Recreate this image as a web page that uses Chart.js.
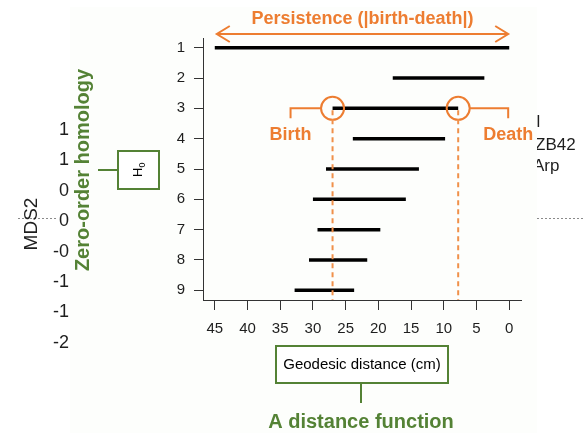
<!DOCTYPE html>
<html>
<head>
<meta charset="utf-8">
<script src="https://cdn.jsdelivr.net/npm/chart.js@4"></script>
<style>
html,body{margin:0;padding:0;background:#fff;}
canvas{display:block;}
</style>
</head>
<body>
<canvas id="barcode" width="585" height="433"></canvas>
<script>
/* global Chart */

// H0 barcode: one bar per row, birth -> death (geodesic distance, cm)
const rows = [1, 2, 3, 4, 5, 6, 7, 8, 9];
const births = [45, 17.8, 27.0, 23.9, 28.0, 30.0, 29.3, 30.6, 32.8];
const deaths = [0, 3.8, 7.8, 9.8, 13.8, 15.8, 19.7, 21.7, 23.7];
const xTicks = [45, 40, 35, 30, 25, 20, 15, 10, 5, 0];

// bits of the slide behind the plot
const mdsTicks = ['1', '1', '0', '0', '-0', '-1', '-1', '-2'];
const sideLabels = ['ol', 'ZB42', 'Arp'];

const FONT = "'Liberation Sans', Arial, sans-serif";
const ORANGE = '#ed7d31';
const GREEN = '#548235';
const INK = '#1e1e1e';

function upText(ctx, text, x, y, font, color) {
  ctx.save();
  ctx.translate(x, y);
  ctx.rotate(-Math.PI / 2);
  ctx.font = font;
  ctx.fillStyle = color;
  ctx.textAlign = 'center';
  ctx.textBaseline = 'alphabetic';
  ctx.fillText(text, 0, 0);
  ctx.restore();
}

const backdrop = {
  id: 'backdrop',
  beforeDraw(chart) {
    const ctx = chart.ctx;
    ctx.save();
    ctx.fillStyle = '#fff';
    ctx.fillRect(0, 0, chart.width, chart.height);

    // slide text that sticks out on the right
    ctx.font = '17px ' + FONT;
    ctx.fillStyle = INK;
    ctx.textAlign = 'left';
    const sideY = [127, 150, 171];
    const sideX = [527, 535, 533];
    sideLabels.forEach((t, i) => ctx.fillText(t, sideX[i], sideY[i]));

    // dotted guide
    ctx.strokeStyle = '#8a8a8a';
    ctx.lineWidth = 1;
    ctx.setLineDash([2, 2]);
    ctx.beginPath();
    ctx.moveTo(18, 218.5); ctx.lineTo(58, 218.5);
    ctx.moveTo(537, 218.5); ctx.lineTo(585, 218.5);
    ctx.stroke();
    ctx.setLineDash([]);

    // pale panel the plot sits on
    ctx.fillStyle = '#fdfefc';
    ctx.fillRect(70, 7, 467, chart.height - 7);

    // MDS2 axis leftovers
    ctx.font = '18px ' + FONT;
    ctx.fillStyle = INK;
    ctx.textAlign = 'right';
    mdsTicks.forEach((t, i) => ctx.fillText(t, 69, 135 + i * 30.4));
    upText(ctx, 'MDS2', 37, 224, '19px ' + FONT, INK);

    upText(ctx, 'Zero-order homology', 89, 170, 'bold 20px ' + FONT, GREEN);

    // H0 box
    ctx.strokeStyle = GREEN;
    ctx.lineWidth = 2;
    ctx.beginPath();
    ctx.moveTo(98, 170); ctx.lineTo(118, 170);
    ctx.stroke();
    ctx.fillStyle = '#fff';
    ctx.fillRect(118, 151, 41, 38);
    ctx.strokeRect(118, 151, 41, 38);
    ctx.translate(142, 170);
    ctx.rotate(-Math.PI / 2);
    ctx.fillStyle = '#000';
    ctx.textAlign = 'left';
    ctx.font = '13px ' + FONT;
    ctx.fillText('H', -7, 0);
    ctx.font = '9px ' + FONT;
    ctx.fillText('0', 2.5, 3);
    ctx.restore();
  }
};

const notes = {
  id: 'notes',
  afterDatasetsDraw(chart) {
    const ctx = chart.ctx;
    const x = chart.scales.x;
    const y = chart.scales.y;
    const area = chart.chartArea;
    ctx.save();
    ctx.strokeStyle = ORANGE;
    ctx.fillStyle = ORANGE;
    ctx.lineWidth = 2;

    // persistence arrow over the longest bar
    const ax0 = x.getPixelForValue(births[0]) + 2;
    const ax1 = x.getPixelForValue(deaths[0]) - 1;
    const ay = 34;
    ctx.beginPath();
    ctx.moveTo(ax0, ay); ctx.lineTo(ax1, ay);
    ctx.moveTo(ax0 + 13, ay - 8); ctx.lineTo(ax0, ay); ctx.lineTo(ax0 + 13, ay + 8);
    ctx.moveTo(ax1 - 13, ay - 8); ctx.lineTo(ax1, ay); ctx.lineTo(ax1 - 13, ay + 8);
    ctx.stroke();
    ctx.font = 'bold 18px ' + FONT;
    ctx.textAlign = 'center';
    ctx.fillText('Persistence (|birth-death|)', (ax0 + ax1) / 2, 24);

    // birth / death of row 3
    const r = 11.5;
    const by = y.getPixelForValue(rows[2]);
    const bx = x.getPixelForValue(births[2]);
    const dx = x.getPixelForValue(deaths[2]);
    ctx.beginPath();
    ctx.arc(bx, by, r, 0, Math.PI * 2);
    ctx.stroke();
    ctx.beginPath();
    ctx.arc(dx, by, r, 0, Math.PI * 2);
    ctx.stroke();

    ctx.beginPath();
    ctx.moveTo(bx - r, by); ctx.lineTo(bx - 42, by); ctx.lineTo(bx - 42, by + 10);
    ctx.moveTo(dx + r, by); ctx.lineTo(dx + 50, by); ctx.lineTo(dx + 50, by + 10);
    ctx.stroke();
    ctx.fillText('Birth', bx - 42, by + 32);
    ctx.fillText('Death', dx + 50, by + 32);

    ctx.strokeStyle = '#f0904a';
    ctx.setLineDash([5, 4]);
    ctx.beginPath();
    ctx.moveTo(bx, by + 2); ctx.lineTo(bx, area.bottom);
    ctx.moveTo(dx, by + 2); ctx.lineTo(dx, area.bottom);
    ctx.stroke();
    ctx.setLineDash([]);

    // x axis caption box
    ctx.strokeStyle = GREEN;
    ctx.fillStyle = '#fff';
    ctx.fillRect(276, 346, 172, 37);
    ctx.strokeRect(276, 346, 172, 37);
    ctx.beginPath();
    ctx.moveTo(361, 383); ctx.lineTo(361, 403);
    ctx.stroke();
    ctx.fillStyle = '#000';
    ctx.font = '15px ' + FONT;
    ctx.textBaseline = 'middle';
    ctx.fillText('Geodesic distance (cm)', 362, 365);
    ctx.textBaseline = 'alphabetic';
    ctx.fillStyle = GREEN;
    ctx.font = 'bold 20px ' + FONT;
    ctx.fillText('A distance function', 361, 428);
    ctx.restore();
  }
};

const datasets = rows.map((row, i) => ({
  data: [{ x: births[i], y: row }, { x: deaths[i], y: row }],
  showLine: true,
  borderColor: '#000',
  borderWidth: 3.5,
  borderCapStyle: 'butt',
  pointRadius: 0,
  clip: false
}));

const axisGrid = len => ({
  display: true, drawOnChartArea: false, drawTicks: true,
  tickLength: len, color: '#333', lineWidth: 1
});

new Chart(document.getElementById('barcode').getContext('2d'), {
  type: 'scatter',
  data: { datasets },
  options: {
    responsive: false,
    animation: false,
    events: [],
    layout: { padding: { left: 0, right: 64, top: 38, bottom: 0 } },
    plugins: { legend: { display: false }, tooltip: { enabled: false } },
    scales: {
      x: {
        type: 'linear', reverse: true, min: -1.8, max: 46.8,
        afterBuildTicks: s => { s.ticks = xTicks.map(v => ({ value: v })); },
        afterFit: s => { s.height = 133; },
        grid: axisGrid(10),
        border: { display: true, color: '#333', width: 1 },
        ticks: { color: INK, padding: 10, maxRotation: 0, autoSkip: false, font: { family: FONT, size: 15 } }
      },
      y: {
        type: 'linear', reverse: true, min: 0.68, max: 9.32,
        afterBuildTicks: s => { s.ticks = rows.map(v => ({ value: v })); },
        afterFit: s => { s.width = 203; },
        grid: axisGrid(9),
        border: { display: true, color: '#333', width: 1 },
        ticks: { color: INK, padding: 9, autoSkip: false, font: { family: FONT, size: 15 } }
      }
    }
  },
  plugins: [backdrop, notes]
});
</script>
</body>
</html>
